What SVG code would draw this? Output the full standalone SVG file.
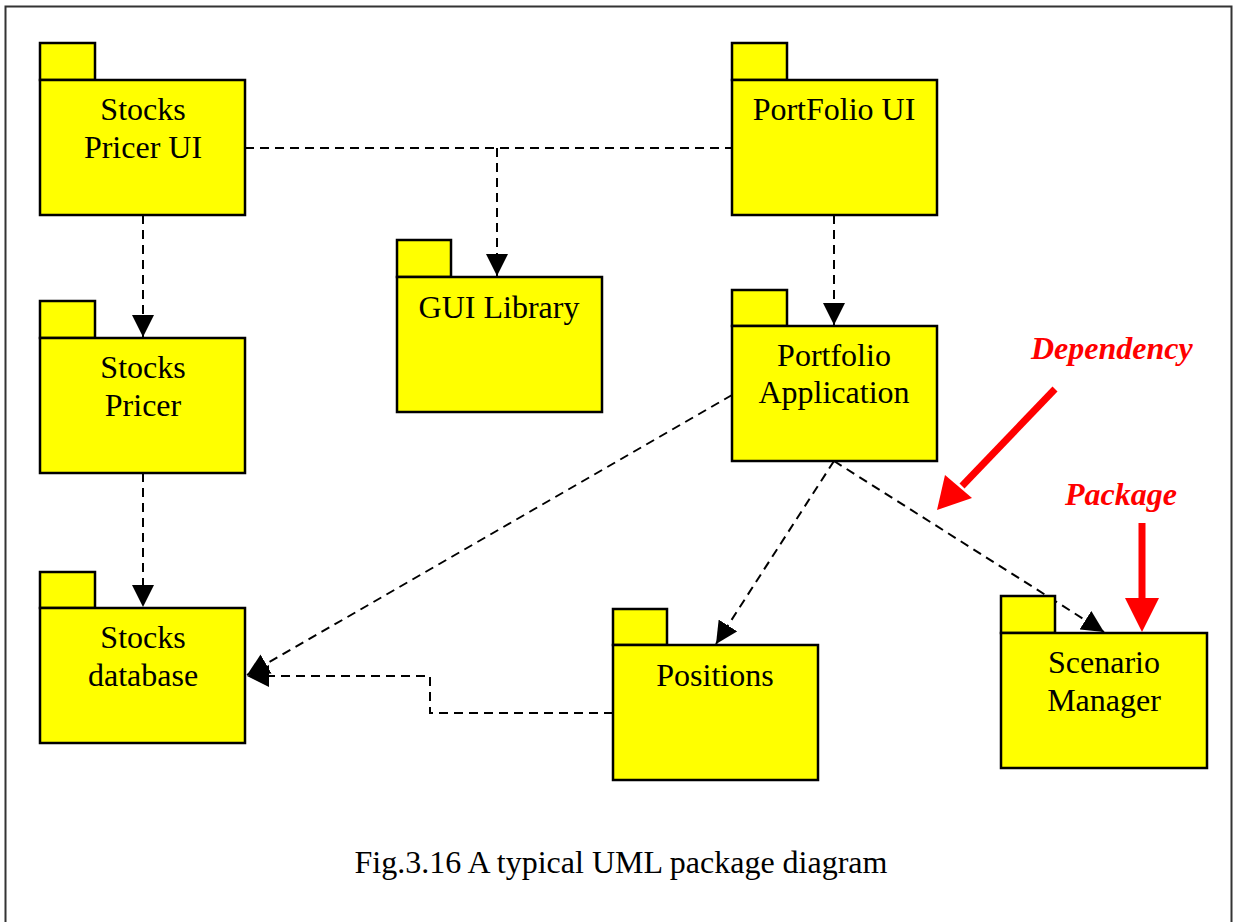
<svg xmlns="http://www.w3.org/2000/svg" width="1234" height="922" viewBox="0 0 1234 922">
<style>
.pk{fill:#ffff00;stroke:#000;stroke-width:2.5}
.t{font-family:"Liberation Serif","Times New Roman",serif;font-size:32px;fill:#000;text-anchor:middle}
.n{font-family:"Liberation Serif","Times New Roman",serif;font-size:32px;fill:#ff0000;font-weight:bold;font-style:italic}
.d{fill:none;stroke:#000;stroke-width:2;stroke-dasharray:9,6}
.r{fill:none;stroke:#ff0000;stroke-width:7}
</style>
<defs>
<marker id="ah" viewBox="0 0 22 22" refX="22" refY="11" markerWidth="22" markerHeight="22" markerUnits="userSpaceOnUse" orient="auto">
<path d="M0,0 L22,11 L0,22 Z" fill="#000"/>
</marker>
</defs>
<rect x="0" y="0" width="1234" height="922" fill="#fff"/>
<path d="M5.5,930 V6.5 H1231.5 V930" fill="none" stroke="#333" stroke-width="2"/>
<g id="connectors">
<path class="d" d="M245,148 H732"/>
<path class="d" d="M497,148 V276" marker-end="url(#ah)"/>
<path class="d" d="M143,215 V337" marker-end="url(#ah)"/>
<path class="d" d="M143,473 V607" marker-end="url(#ah)"/>
<path class="d" d="M834,215 V325" marker-end="url(#ah)"/>
<path class="d" d="M732,395 L247,675" marker-end="url(#ah)"/>
<path class="d" d="M834,461 L716,644" marker-end="url(#ah)"/>
<path class="d" d="M834,461 L1104,632" marker-end="url(#ah)"/>
<path class="d" d="M613,713 H430 V676 H247" marker-end="url(#ah)"/>
</g>
<g id="stocks-pricer-ui">
<rect class="pk" x="40" y="43" width="55" height="37"/>
<rect class="pk" x="40" y="80" width="205" height="135"/>
<text class="t" x="143" y="120">Stocks</text>
<text class="t" x="143" y="158">Pricer UI</text>
</g>
<g id="portfolio-ui">
<rect class="pk" x="732" y="43" width="55" height="37"/>
<rect class="pk" x="732" y="80" width="205" height="135"/>
<text class="t" x="834" y="120">PortFolio UI</text>
</g>
<g id="gui-library">
<rect class="pk" x="397" y="240" width="54" height="37"/>
<rect class="pk" x="397" y="277" width="205" height="135"/>
<text class="t" x="499" y="318">GUI Library</text>
</g>
<g id="stocks-pricer">
<rect class="pk" x="40" y="301" width="55" height="37"/>
<rect class="pk" x="40" y="338" width="205" height="135"/>
<text class="t" x="143" y="378">Stocks</text>
<text class="t" x="143" y="416">Pricer</text>
</g>
<g id="portfolio-application">
<rect class="pk" x="732" y="290" width="55" height="36"/>
<rect class="pk" x="732" y="326" width="205" height="135"/>
<text class="t" x="834" y="366">Portfolio</text>
<text class="t" x="834" y="403">Application</text>
</g>
<g id="stocks-database">
<rect class="pk" x="40" y="572" width="55" height="36"/>
<rect class="pk" x="40" y="608" width="205" height="135"/>
<text class="t" x="143" y="648">Stocks</text>
<text class="t" x="143" y="686">database</text>
</g>
<g id="positions">
<rect class="pk" x="613" y="609" width="54" height="36"/>
<rect class="pk" x="613" y="645" width="205" height="135"/>
<text class="t" x="715" y="686">Positions</text>
</g>
<g id="scenario-manager">
<rect class="pk" x="1001" y="596" width="54" height="37"/>
<rect class="pk" x="1001" y="633" width="206" height="135"/>
<text class="t" x="1104" y="673">Scenario</text>
<text class="t" x="1104" y="711">Manager</text>
</g>
<g id="annotations">
<text class="n" x="1031" y="359">Dependency</text>
<path class="r" d="M1055,389 L962,486"/>
<path d="M937,510 L945,475 L972,498 Z" fill="#ff0000"/>
<text class="n" x="1065" y="505">Package</text>
<path class="r" d="M1142,523 V600"/>
<path d="M1125,598 L1159,598 L1142,632 Z" fill="#ff0000"/>
</g>
<text class="t" x="621" y="873">Fig.3.16 A typical UML package diagram</text>
</svg>
